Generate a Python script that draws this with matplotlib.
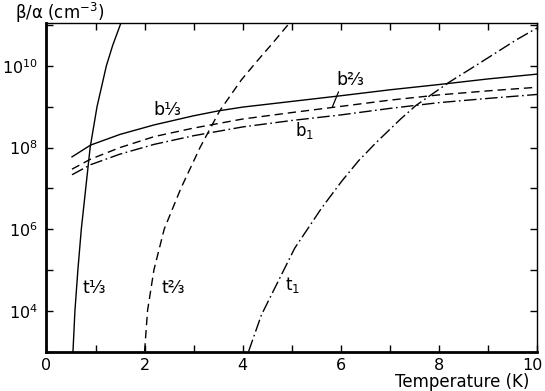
# beta/alpha versus temperature, log scale
import numpy as np
import matplotlib
matplotlib.use("Agg")
import matplotlib.pyplot as plt

plt.rcParams['font.family'] = ['DejaVu Sans']
plt.rcParams['mathtext.default'] = 'regular'

# b curves (temperature K, density cm^-3)
b13_T = [0.52, 0.9, 1.5, 2.2, 3.0, 3.5, 4.0, 5.0, 6.0, 7.0, 8.0, 9.0, 10.0]
b13_n = [5.9e7, 1.15e8, 2.1e8, 3.6e8, 6.0e8, 7.9e8, 9.8e8, 1.35e9, 1.86e9, 2.6e9, 3.5e9, 4.8e9, 6.3e9]
b23_T = [0.52, 0.9, 1.5, 2.2, 3.0, 4.0, 5.0, 6.0, 7.0, 8.0, 9.0, 10.0]
b23_n = [2.95e7, 5.2e7, 1.0e8, 1.86e8, 3.0e8, 5.0e8, 7.2e8, 1.02e9, 1.45e9, 1.95e9, 2.45e9, 3.0e9]
b1_T = [0.52, 0.9, 1.5, 2.2, 3.0, 4.0, 5.0, 6.0, 7.0, 8.0, 9.0, 10.0]
b1_n = [2.15e7, 3.8e7, 6.9e7, 1.2e8, 1.95e8, 3.2e8, 4.6e8, 6.3e8, 9.1e8, 1.26e9, 1.6e9, 2.0e9]

# t curves
t13_T = [0.54, 0.58, 0.64, 0.71, 0.80, 0.89, 1.03, 1.22, 1.35, 1.52]
t13_n = [1e3, 1e4, 1e5, 1e6, 1e7, 1e8, 1e9, 1e10, 3.2e10, 1.15e11]
t23_T = [2.0, 2.06, 2.19, 2.40, 2.74, 3.13, 3.53, 3.97, 4.28, 4.6, 4.96]
t23_n = [1e3, 1e4, 1e5, 1e6, 1e7, 1e8, 7.9e8, 4.5e9, 1.26e10, 3.5e10, 1.15e11]
t1_T = [4.12, 4.38, 4.65, 5.06, 5.61, 6.02, 6.36, 6.72, 7.22, 7.53, 8.21, 8.74, 9.57, 10.0]
t1_n = [1e3, 7.8e3, 3.5e4, 3.4e5, 3.3e6, 1.5e7, 4.7e7, 1.32e8, 5.0e8, 1.07e9, 4.0e9, 1e10, 4.3e10, 8.5e10]

yticks = [1e3, 1e4, 1e5, 1e6, 1e7, 1e8, 1e9, 1e10, 1e11]
ylabels = ['', '$10^{4}$', '', '$10^{6}$', '', '$10^{8}$', '', '$10^{10}$', '']
xticks = list(range(11))
xlabels = ['0', '', '2', '', '4', '', '6', '', '8', '', '']

fig = plt.figure(figsize=(5.45, 3.91), dpi=100)
ax = fig.add_axes([0.0853, 0.101, 0.900, 0.839])

lw = 1.0
dash = (0, (6, 3.5))
dashdot = (0, (9, 2.5, 1.2, 2.5))
ax.plot(b13_T, b13_n, color='black', lw=lw, ls='-')
ax.plot(b23_T, b23_n, color='black', lw=lw, ls=dash)
ax.plot(b1_T, b1_n, color='black', lw=lw, ls=dashdot)
ax.plot(t13_T, t13_n, color='black', lw=lw, ls='-')
ax.plot(t23_T, t23_n, color='black', lw=lw, ls=dash)
ax.plot(t1_T, t1_n, color='black', lw=lw, ls=dashdot)

ax.set_yscale('log')
ax.set_xlim(0, 10)
ax.set_ylim(1e3, 1.1e11)
ax.set_yticks(yticks, ylabels)
ax.set_xticks(xticks, xlabels)
ax.minorticks_off()
ax.tick_params(direction='in', length=5, width=1, labelsize=11.5,
               top=True, right=True, colors='black')
ax.tick_params(axis='y', pad=6)
ax.tick_params(axis='x', pad=5)
# last x label pulled in slightly so it stays inside the figure
ax.annotate('10', xy=(1, 0), xycoords='axes fraction', xytext=(-3, -5),
            textcoords='offset points', ha='center', va='top', fontsize=11.5)

for s in ['left', 'bottom']:
    ax.spines[s].set_linewidth(2.0)
for s in ['top', 'right']:
    ax.spines[s].set_linewidth(1.0)

# curve labels
fs = 12.5
ax.text(0.73, 3.6e4, 't⅓', fontsize=fs, ha='left', va='center')
ax.text(2.35, 3.6e4, 't⅔', fontsize=fs, ha='left', va='center')
ax.text(4.86, 4.3e4, '$t_1$', fontsize=12, ha='left', va='center')
ax.text(2.17, 8.5e8, 'b⅓', fontsize=fs, ha='left', va='center')
ax.text(5.06, 2.6e8, '$b_1$', fontsize=12, ha='left', va='center')
ax.annotate('b⅔', xy=(5.83, 1.0e9), xytext=(5.92, 4.5e9), fontsize=fs,
            ha='left', va='center',
            arrowprops=dict(arrowstyle='-', lw=0.9, color='black',
                            relpos=(0.1, 0.0), shrinkA=0, shrinkB=0))

fig.text(0.027, 0.967, 'β/α (cm$^{-3}$)', fontsize=12, ha='left', va='center')
fig.text(0.971, 0.023, 'Temperature (K)', fontsize=12, ha='right', va='center')

fig.savefig('out.png', dpi=100)
